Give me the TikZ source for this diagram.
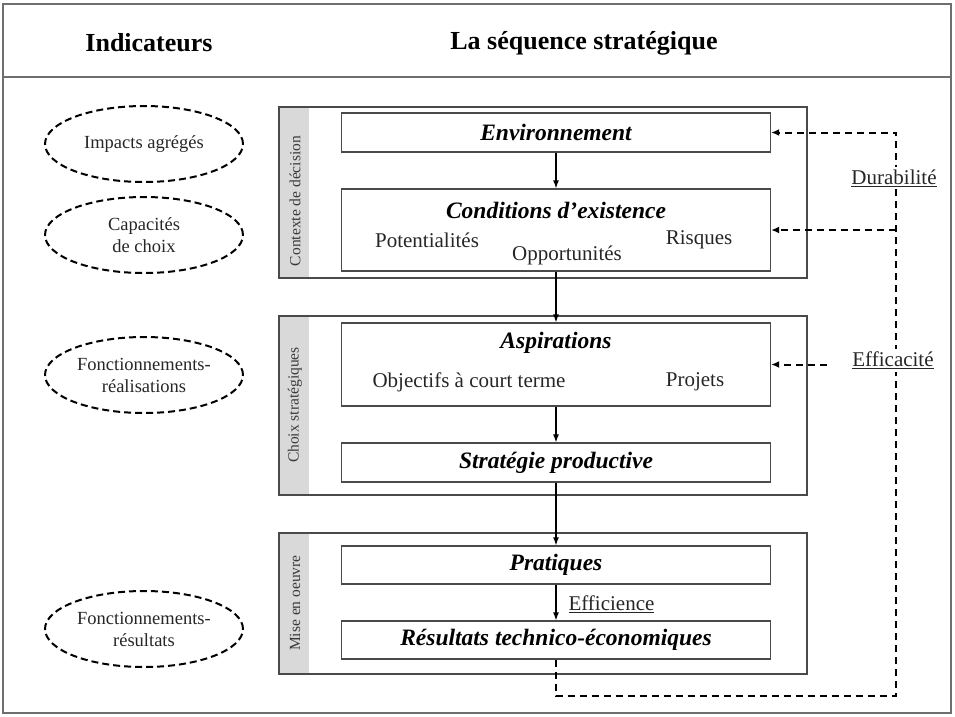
\documentclass[tikz,border=0pt]{standalone}
\usepackage{fontspec}
\setmainfont{Liberation Serif}
\usetikzlibrary{arrows.meta,shapes.geometric,calc}
\definecolor{framec}{HTML}{6E6E6E}
\definecolor{boxc}{HTML}{4A4A4A}
\definecolor{txt}{HTML}{262626}
\definecolor{sidec}{HTML}{3A3A3A}
\definecolor{stripc}{HTML}{D9D9D9}
\begin{document}
\begin{tikzpicture}[x=1pt,y=-1pt,
  box/.style={draw=boxc, line width=1.3pt, minimum width=429pt, inner sep=0pt},
  grp/.style={draw=boxc, line width=1.3pt, minimum width=528pt, inner sep=0pt},
  ttl/.style={font=\fontsize{23.5}{25}\selectfont\bfseries\itshape, text=black},
  lbl/.style={font=\fontsize{21}{23}\selectfont, text=txt},
  hdr/.style={font=\fontsize{26}{28}\selectfont\bfseries, text=black},
  ell/.style={draw=black, line width=2pt, dash pattern=on 7pt off 4pt, ellipse,
    minimum width=198pt, minimum height=76pt, align=center, inner sep=0pt,
    font=\fontsize{18.5}{22}\selectfont, text=txt},
  fb/.style={line width=2pt, dash pattern=on 7pt off 5pt, draw=black},
  flow/.style={line width=1.2pt, draw=black, -{Latex[length=8pt,width=6pt]}},
  fbtip/.style={-{Latex[length=8pt,width=7pt]}},
  side/.style={rotate=90, font=\fontsize{15.5}{17}\selectfont, text=sidec}
]
\useasboundingbox (0,0) rectangle (955,716);
% frame
\draw[framec, line width=2pt] (3,4) rectangle (951,713);
\draw[framec, line width=2pt] (3,77) -- (951,77);
\node[hdr] (h1) at (149,43) {Indicateurs};
\node[hdr] (h2) at (584,43) {La séquence stratégique};

% indicator ellipses
\node[ell] (e1) at (144,144) {Impacts agrégés};
\node[ell] (e2) at (144,235) {Capacités\\de choix};
\node[ell] (e3) at (144,375) {Fonctionnements-\\réalisations};
\node[ell] (e4) at (144,629) {Fonctionnements-\\résultats};

% group strips
\fill[stripc] (280,108) rectangle (309,277);
\fill[stripc] (280,317) rectangle (309,494);
\fill[stripc] (280,534) rectangle (309,673);
\node[grp, minimum height=171pt] (g1) at (543,192.5) {};
\node[grp, minimum height=179pt] (g2) at (543,405.5) {};
\node[grp, minimum height=141pt] (g3) at (543,603.5) {};
\node[side] (s1) at (295,201) {Contexte de décision};
\node[side] (s2) at (295,405) {Choix stratégiques};
\node[side] (s3) at (295,603) {Mise en oeuvre};

% boxes
\node[box, minimum height=39pt] (env) at (556,132.5) {};
\node[ttl] (envt) at (556,132.5) {Environnement};
\node[box, minimum height=82pt] (cond) at (556,230) {};
\node[ttl] (condt) at (556,210) {Conditions d’existence};
\node[lbl] (pot) at (427,240) {Potentialités};
\node[lbl] (opp) at (567,255) {Opportunités};
\node[lbl] (ris) at (699,240) {Risques};
\node[box, minimum height=83pt] (asp) at (556,364.5) {};
\node[ttl] (aspt) at (556,343) {Aspirations};
\node[lbl] (obj) at (469,382) {Objectifs à court terme};
\node[lbl] (proj) at (695,382) {Projets};
\node[box, minimum height=39pt] (strat) at (556,462.5) {};
\node[ttl] (stratt) at (556,462.5) {Stratégie productive};
\node[box, minimum height=38pt] (prat) at (556,565) {};
\node[ttl] (pratt) at (556,565) {Pratiques};
\node[box, minimum height=38pt] (res) at (556,640) {};
\node[ttl] (rest) at (556,640) {Résultats technico-économiques};

% main flow
\draw[flow] (env) -- (cond);
\draw[flow] (cond) -- (asp);
\draw[flow] (asp) -- (strat);
\draw[flow] (strat) -- (prat);
\draw[flow] (prat) -- (res);
\node[lbl, anchor=west] (effi) at (565,604) {\underline{Efficience}};

% feedback loop
\coordinate (cb) at (896,696);
\coordinate (effin) at (827,364.5);
\draw[fb, fbtip] (res.south) |- (cb) |- (env.east);
\draw[fb, fbtip] (cb |- cond.east) -- (cond.east);
\draw[fb, fbtip] (effin) -- (asp.east);
\node[lbl, fill=white, inner sep=3pt] (dur) at (894,178) {\underline{Durabilité}};
\node[lbl, fill=white, inner sep=3pt] (eff) at (893,360) {\underline{Efficacité}};
\end{tikzpicture}
\end{document}
